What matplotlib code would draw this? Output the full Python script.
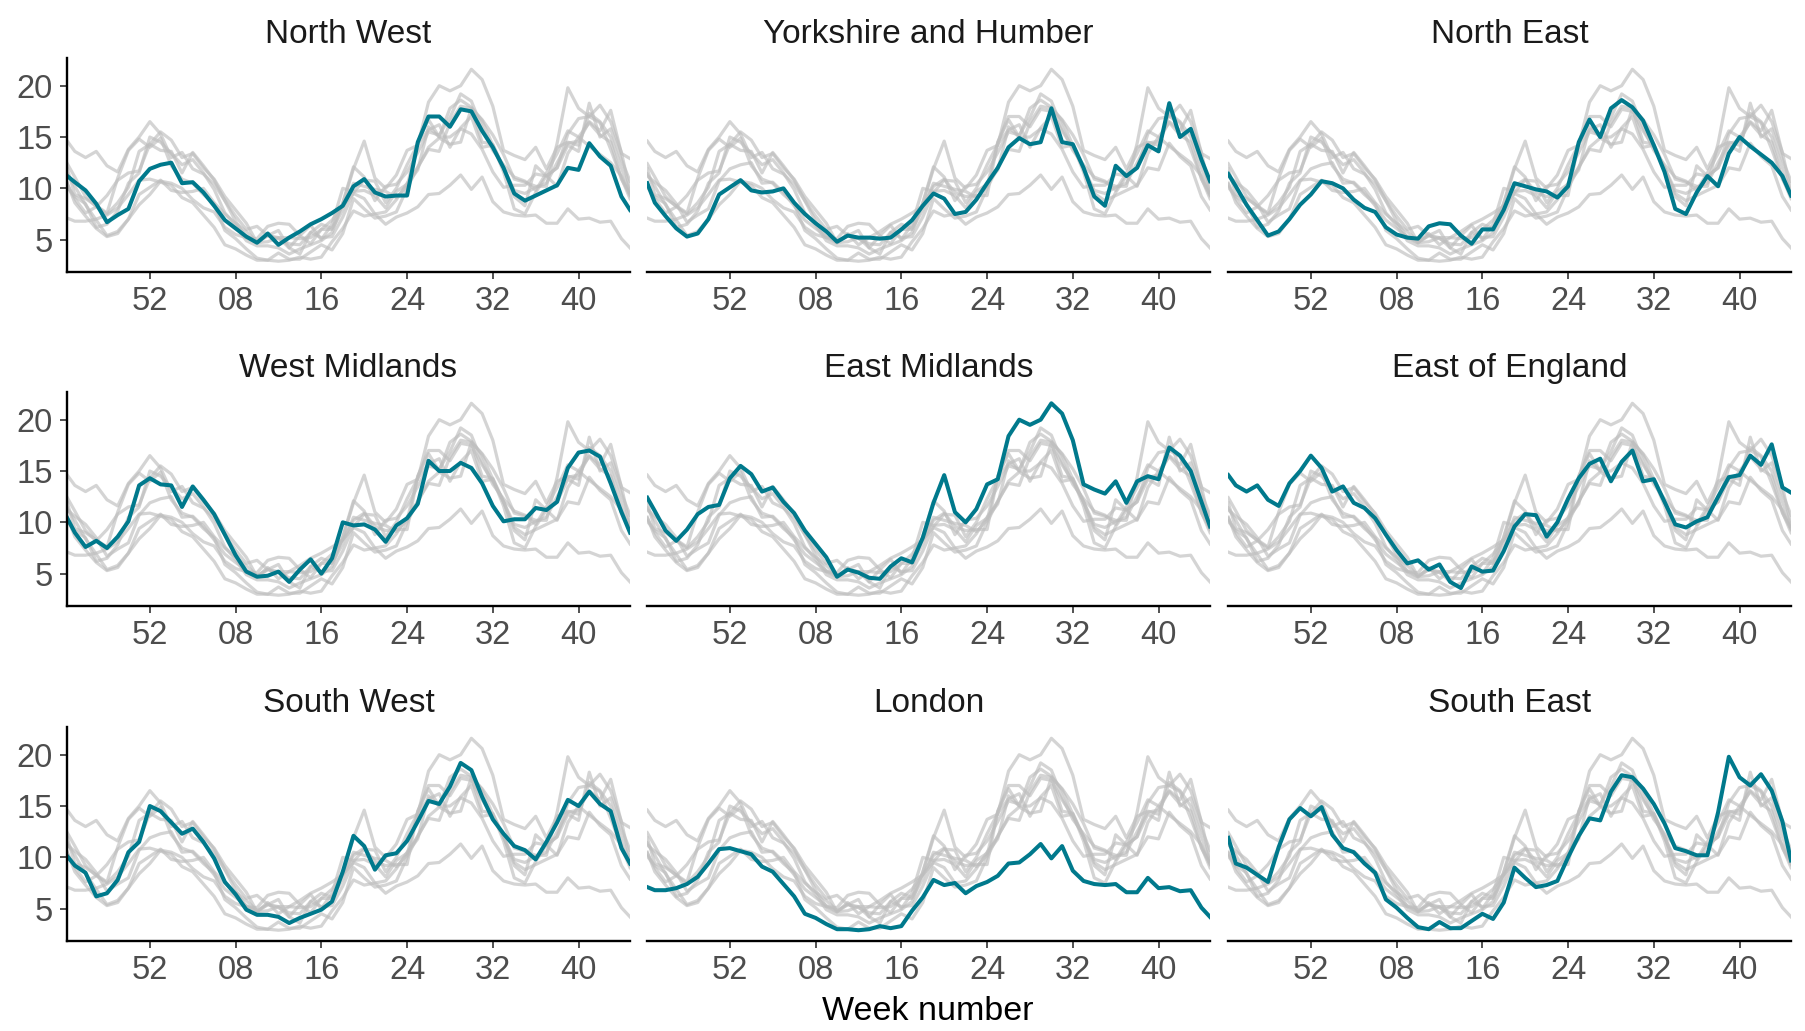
import matplotlib
matplotlib.use("Agg")
import matplotlib.pyplot as plt

plt.rcParams['font.family'] = ['Liberation Sans', 'DejaVu Sans']

# x position in weeks counted from week 44 of the first year
weeks = [0.3] + list(range(1, 53)) + [52.8]
week_ticks = [8, 16, 24, 32, 40, 48]
week_labels = ['52', '08', '16', '24', '32', '40']

regions = ['North West', 'Yorkshire and Humber', 'North East',
           'West Midlands', 'East Midlands', 'East of England',
           'South West', 'London', 'South East']

north_west = [11.2, 10.6, 9.8, 8.5, 6.7, 7.4, 8.0, 10.7, 11.9, 12.3, 12.5, 10.5, 10.6, 9.6,
              8.3, 6.9, 6.1, 5.3, 4.7, 5.6, 4.5, 5.2, 5.8, 6.5, 7.0, 7.6, 8.3, 10.2, 10.9,
              9.6, 9.2, 9.3, 9.3, 14.5, 17.0, 17.0, 16.0, 17.7, 17.5, 15.6, 14.0, 12.0, 9.5,
              8.8, 9.3, 9.8, 10.3, 12.0, 11.8, 14.4, 13.1, 12.2, 9.2, 7.9]
yorkshire = [10.5, 8.6, 7.3, 6.1, 5.3, 5.6, 7.0, 9.4, 10.1, 10.8, 9.8, 9.6, 9.7, 10.0,
             8.6, 7.5, 6.6, 5.8, 4.8, 5.4, 5.2, 5.2, 5.1, 5.2, 6.0, 6.9, 8.3, 9.5, 9.0,
             7.5, 7.7, 8.9, 10.5, 12.0, 14.0, 14.9, 14.3, 14.5, 17.8, 14.5, 14.3, 12.0, 9.2,
             8.3, 12.2, 11.2, 12.0, 14.2, 13.6, 18.3, 15.0, 15.8, 12.8, 10.7]
north_east = [11.4, 10.2, 8.4, 6.9, 5.4, 5.8, 7.0, 8.4, 9.4, 10.7, 10.5, 10.0, 8.9, 8.1,
              7.7, 6.2, 5.5, 5.2, 5.1, 6.3, 6.6, 6.5, 5.4, 4.6, 6.0, 6.0, 7.9, 10.5, 10.2,
              9.9, 9.7, 9.1, 10.2, 14.5, 16.7, 15.0, 17.8, 18.6, 17.9, 16.6, 14.2, 11.6, 8.0,
              7.5, 9.6, 11.2, 10.2, 13.4, 15.0, 14.1, 13.3, 12.5, 11.2, 9.3]
west_midlands = [10.4, 9.0, 7.6, 8.2, 7.5, 8.6, 10.1, 13.6, 14.3, 13.7, 13.6, 11.5, 13.5, 12.2,
                 10.8, 8.8, 6.8, 5.2, 4.7, 4.8, 5.2, 4.2, 5.4, 6.4, 5.0, 6.5, 10.0, 9.7, 9.8,
                 9.3, 8.1, 9.7, 10.4, 11.8, 16.0, 15.0, 15.0, 15.8, 15.3, 13.8, 11.6, 10.1, 10.3,
                 10.3, 11.4, 11.2, 12.0, 15.3, 16.8, 17.0, 16.4, 13.8, 11.0, 9.0]
east_midlands = [12.4, 11.1, 9.2, 8.2, 9.3, 10.8, 11.5, 11.7, 14.3, 15.5, 14.7, 13.0, 13.4, 12.0,
                 10.9, 9.2, 7.9, 6.6, 4.7, 5.4, 5.1, 4.6, 4.5, 5.7, 6.5, 6.1, 8.5, 11.9, 14.6,
                 11.0, 10.0, 11.3, 13.7, 14.2, 18.4, 20.0, 19.5, 20.0, 21.6, 20.6, 18.0, 13.7, 13.2,
                 12.8, 14.0, 11.9, 14.0, 14.5, 14.2, 17.3, 16.5, 15.0, 12.0, 9.6]
east_england = [14.6, 13.6, 13.0, 13.6, 12.2, 11.6, 13.8, 15.0, 16.5, 15.3, 13.0, 13.5, 11.9, 11.4,
                10.4, 8.8, 7.3, 6.0, 6.3, 5.4, 5.9, 4.2, 3.6, 5.7, 5.2, 5.3, 7.2, 9.6, 10.8,
                10.7, 8.6, 10.0, 12.3, 14.3, 15.7, 16.2, 14.0, 15.9, 17.0, 14.0, 14.2, 12.0, 9.8,
                9.5, 10.1, 10.5, 12.5, 14.4, 14.6, 16.5, 15.6, 17.6, 13.4, 12.9]
south_west = [10.1, 9.2, 8.5, 6.2, 6.5, 7.8, 10.5, 11.5, 15.0, 14.5, 13.4, 12.3, 12.8, 11.5,
              9.9, 7.6, 6.4, 4.9, 4.4, 4.4, 4.2, 3.6, 4.1, 4.5, 4.9, 5.7, 8.6, 12.1, 11.1,
              8.8, 10.2, 10.4, 11.6, 13.5, 15.5, 15.2, 16.9, 19.2, 18.5, 15.9, 13.7, 12.3, 11.1,
              10.7, 9.8, 11.5, 13.4, 15.6, 15.0, 16.4, 15.2, 14.5, 10.9, 9.4]
london = [7.1, 6.8, 6.8, 7.0, 7.4, 8.1, 9.4, 10.8, 10.9, 10.6, 10.3, 9.1, 8.6, 7.4,
          6.2, 4.5, 4.1, 3.5, 3.0, 3.0, 2.9, 3.0, 3.3, 3.1, 3.3, 4.8, 6.1, 7.8, 7.3,
          7.5, 6.5, 7.2, 7.6, 8.2, 9.4, 9.5, 10.3, 11.3, 9.9, 11.1, 8.7, 7.7, 7.4,
          7.3, 7.4, 6.6, 6.6, 8.0, 7.0, 7.1, 6.7, 6.8, 5.1, 4.2]
south_east = [11.9, 9.4, 9.0, 8.3, 7.6, 11.0, 13.7, 14.8, 14.0, 14.9, 12.2, 10.9, 10.5, 9.4,
              8.5, 5.9, 5.1, 4.1, 3.2, 3.0, 3.7, 3.1, 3.1, 3.8, 4.5, 4.0, 5.6, 9.0, 8.0,
              7.1, 7.3, 7.7, 10.0, 12.1, 13.8, 13.6, 16.4, 18.0, 17.8, 16.7, 15.2, 13.3, 10.9,
              10.6, 10.2, 10.2, 14.4, 19.8, 17.8, 17.0, 18.1, 16.5, 13.5, 9.7]

series = dict(zip(regions, [north_west, yorkshire, north_east,
                            west_midlands, east_midlands, east_england,
                            south_west, london, south_east]))

W, H = 1806, 1031
col_px = [(67, 630), (647, 1210), (1228, 1791)]
row_px = [(58, 272), (392, 606), (727, 941)]

fig = plt.figure(figsize=(W / 100, H / 100), dpi=100)

for i, name in enumerate(regions):
    r, c = divmod(i, 3)
    x0, x1 = col_px[c]
    y0, y1 = row_px[r]
    ax = fig.add_axes([x0 / W, 1 - y1 / H, (x1 - x0) / W, (y1 - y0) / H])

    for other in regions:
        if other != name:
            ax.plot(weeks, series[other], color='#bebebe', alpha=0.65, lw=2.3)
    ax.plot(weeks, series[name], color='#00798c', lw=2.9)

    ax.set_xlim(0.27, 52.8)
    ax.set_ylim(1.85, 22.7)
    ax.set_xticks(week_ticks)
    ax.set_xticklabels(week_labels)
    ax.set_yticks([5, 10, 15, 20])

    for s in ['top', 'right']:
        ax.spines[s].set_visible(False)
    ax.spines['bottom'].set_linewidth(1.7)
    ax.spines['left'].set_linewidth(1.7)
    ax.tick_params(labelsize=23.5, labelcolor='#4d4d4d', color='#333333',
                   length=5, width=1.2, pad=5)
    if c > 0:
        ax.spines['left'].set_visible(False)
        ax.tick_params(axis='y', left=False, labelleft=False)

    ax.set_title(name, fontsize=24, color='#1a1a1a', pad=11)

fig.text(928 / W, 1 - 1020 / H, 'Week number', ha='center', va='baseline',
         fontsize=24.5, color='black')

fig.savefig('out.png', dpi=100)
